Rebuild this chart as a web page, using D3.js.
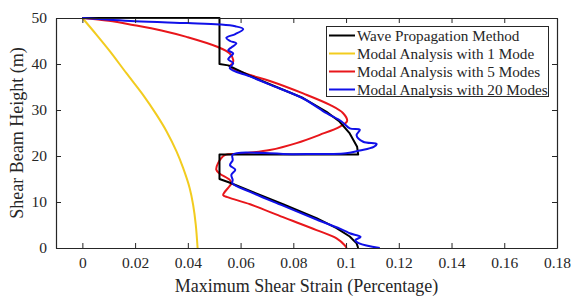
<!DOCTYPE html>
<html lang="en">

<head>
    <script src='https://d3js.org/d3.v7.min.js'></script>
</head>

<body style="margin:0;background:#fff">

    <style>
        svg text {
            fill: #262626;
            font-family: "Liberation Serif", "Times New Roman", serif;
        }
    </style>

    <script>
        // series values: [strain, height]
        let wave = [[0, 50], [0.052, 50], [0.052, 40], [0.0553, 39.7], [0.0636, 37.4], [0.0711, 35.6], [0.0837, 32.6],
            [0.0926, 29.6], [0.0975, 27.5], [0.1014, 24.9], [0.1042, 22], [0.1046, 20.3], [0.052, 20.3], [0.052, 15],
            [0.0555, 14.3], [0.0636, 12.4], [0.0761, 9.5], [0.0888, 6.5], [0.0964, 4.3], [0.1014, 2.5], [0.104, 1], [0.1046, 0]];

        let mode1 = [[0, 50], [0.0053, 46.4], [0.0104, 42.8], [0.0167, 38], [0.023, 33.3], [0.0281, 29], [0.0319, 25.4],
            [0.0357, 21], [0.0382, 17.4], [0.0407, 13], [0.042, 9.4], [0.043, 5.1], [0.0437, 0]];

        let mode5 = [[0, 50], [0.01, 49.4], [0.0192, 48.5], [0.03, 47.3], [0.0395, 45.9], [0.0509, 43.8], [0.0559, 42.3],
            [0.0572, 40.9], [0.057, 40.2], [0.0559, 39.5], [0.0575, 38.9], [0.0636, 37.6], [0.0711, 36.3], [0.0837, 33.6],
            [0.0939, 31.1], [0.0989, 29.3], [0.1004, 27.6], [0.0977, 26.4], [0.09, 24.6], [0.0812, 22.8], [0.0711, 21.3],
            [0.06, 20.5], [0.054, 20.2], [0.0515, 18.5], [0.0508, 17], [0.052, 16.2], [0.0559, 14.8], [0.0565, 14.1],
            [0.054, 12.2], [0.0534, 11.5], [0.0553, 11], [0.0636, 9.5], [0.0761, 6.7], [0.0888, 3.9], [0.0964, 2.1],
            [0.0995, 0.6], [0.1002, 0]];

        let mode20 = [[0, 50], [0.02, 49.3], [0.04, 48.9], [0.052, 48.6], [0.058, 48.2], [0.061, 47.6], [0.058, 46.5],
            [0.0546, 45.7], [0.056, 45], [0.0584, 44.5], [0.0565, 43.6], [0.0553, 43], [0.0572, 42.3], [0.0559, 41.5],
            [0.0553, 41], [0.0572, 40.2], [0.0559, 39.1], [0.0636, 37.3], [0.0711, 35.5], [0.0837, 32.5], [0.0926, 29.3],
            [0.0983, 27.5], [0.1014, 26], [0.1052, 25.7], [0.104, 24.5], [0.1065, 23.1], [0.1116, 22.6], [0.1105, 22],
            [0.1052, 21.2], [0.1, 20.6], [0.08, 20.4], [0.057, 20.3], [0.057, 19.1], [0.056, 18], [0.058, 17],
            [0.0565, 15.9], [0.057, 14.8], [0.0569, 14.1], [0.0636, 12.2], [0.0761, 9.2], [0.0888, 6.2], [0.0989, 3.9],
            [0.1014, 3.2], [0.1055, 2.4], [0.1035, 1.7], [0.105, 1], [0.1128, 0]];

        let seriesNames = ["Wave Propagation Method", "Modal Analysis with 1 Mode",
            "Modal Analysis with 5 Modes", "Modal Analysis with 20 Modes"];
        let seriesColors = ["#000000", "#f2cc1f", "#e8161b", "#1010e8"];
        let xTicks = [0, 0.02, 0.04, 0.06, 0.08, 0.1, 0.12, 0.14, 0.16, 0.18];
        let yTicks = [0, 10, 20, 30, 40, 50];

        var width = 574, height = 297;
        var mLeft = 56, mRight = 557, mTop = 18, mBottom = 248;

        var svg = d3.select("body")
            .append("svg")
            .attr("width", width)
            .attr("height", height);

        var x = d3.scaleLinear().domain([-0.01, 0.18]).range([mLeft, mRight]);
        var y = d3.scaleLinear().domain([0, 50]).range([mBottom, mTop]);

        // black one has real corners, the modal ones are smooth
        var line = d3.line()
            .x(function(d) { return x(d[0]); })
            .y(function(d) { return y(d[1]); });
        var smooth = d3.line()
            .x(function(d) { return x(d[0]); })
            .y(function(d) { return y(d[1]); })
            .curve(d3.curveCatmullRom.alpha(0.5));

        // series, blue drawn last so it sits over the black one
        var all = [wave, mode1, mode5, mode20];
        [1, 2, 0, 3].forEach(function(i) {
            svg.append("path")
                .attr("d", i == 0 ? line(all[i]) : smooth(all[i]))
                .attr("fill", "none")
                .attr("stroke", seriesColors[i])
                .attr("stroke-width", 2)
                .attr("stroke-linejoin", "round");
        });

        // axes, ticks pointing inside
        svg.append("g").attr("transform", "translate(0," + mBottom + ")")
            .call(d3.axisBottom(x).tickValues(xTicks).tickSizeInner(-5).tickSizeOuter(0).tickPadding(9)
                .tickFormat(function(d) { return String(+d.toFixed(2)); }));
        svg.append("g").attr("transform", "translate(0," + mTop + ")")
            .call(d3.axisTop(x).tickValues(xTicks).tickSizeInner(-5).tickSizeOuter(0).tickFormat(""));
        svg.append("g").attr("transform", "translate(" + mLeft + ",0)")
            .call(d3.axisLeft(y).tickValues(yTicks).tickSizeInner(-5).tickSizeOuter(0).tickPadding(9));
        svg.append("g").attr("transform", "translate(" + mRight + ",0)")
            .call(d3.axisRight(y).tickValues(yTicks).tickSizeInner(-5).tickSizeOuter(0).tickFormat(""));

        svg.selectAll(".domain").attr("stroke", "#262626").attr("stroke-width", 1.2);
        svg.selectAll(".tick line").attr("stroke", "#262626");
        svg.selectAll(".tick text").style("font-size", "15.5px").attr("fill", "#262626")
            .style("font-family", "'Liberation Serif', serif");

        svg.append("text")
            .attr("x", (mLeft + mRight) / 2)
            .attr("y", 292)
            .attr("text-anchor", "middle")
            .style("font-size", "18px")
            .text("Maximum Shear Strain (Percentage)");

        svg.append("text")
            .attr("transform", "translate(23," + ((mTop + mBottom) / 2) + ") rotate(-90)")
            .attr("text-anchor", "middle")
            .style("font-size", "18px")
            .text("Shear Beam Height (m)");

        // legend
        var lg = svg.append("g");
        lg.append("rect")
            .attr("x", 326.5).attr("y", 26.5)
            .attr("width", 222).attr("height", 70)
            .attr("fill", "#fff")
            .attr("stroke", "#262626")
            .attr("stroke-width", 1);
        var item = lg.selectAll("g.item")
            .data(seriesNames)
            .enter()
            .append("g")
            .attr("transform", function(d, i) { return "translate(0," + (35.5 + i * 18) + ")"; });
        item.append("line")
            .attr("x1", 329).attr("x2", 355)
            .attr("stroke", function(d, i) { return seriesColors[i]; })
            .attr("stroke-width", 2);
        item.append("text")
            .attr("x", 357)
            .attr("dy", "0.35em")
            .style("font-size", "15.2px")
            .text(function(d) { return d; });
    </script>
</body>

</html>
